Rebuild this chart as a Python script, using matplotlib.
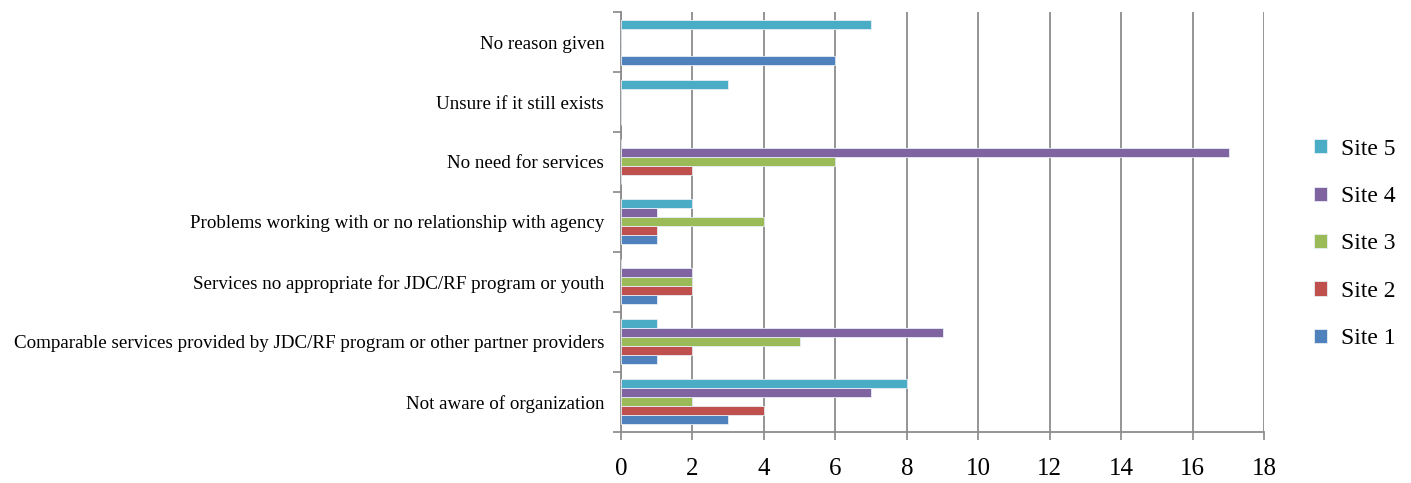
import numpy as np
import matplotlib
matplotlib.use("Agg")
import matplotlib.pyplot as plt

plt.rcParams["font.family"] = ["Liberation Serif", "DejaVu Serif"]

# categories, bottom to top
categories = [
    "Not aware of organization",
    "Comparable services provided by JDC/RF program or other partner providers",
    "Services no appropriate for JDC/RF program or youth",
    "Problems working with or no relationship with agency",
    "No need for services",
    "Unsure if it still exists",
    "No reason given",
]
site1 = [3, 1, 1, 1, 0, 0, 6]
site2 = [4, 2, 2, 1, 2, 0, 0]
site3 = [2, 5, 2, 4, 6, 0, 0]
site4 = [7, 9, 2, 1, 17, 0, 0]
site5 = [8, 1, 0, 2, 0, 3, 7]
series = [("Site 1", site1), ("Site 2", site2), ("Site 3", site3),
          ("Site 4", site4), ("Site 5", site5)]
colors = ["#4F81BD", "#C0504D", "#9BBB59", "#8064A2", "#4BACC6"]
x_ticks = list(range(0, 19, 2))

fig = plt.figure(figsize=(14.11, 4.83), dpi=100)
ax = fig.add_axes([0.440, 0.106, 0.456, 0.869])

y = np.arange(len(categories))
h = 0.15
handles = []
for i, ((name, vals), c) in enumerate(zip(series, colors)):
    off = (i - 2) * h
    b = ax.barh(y + off, vals, height=h, color=c, edgecolor="#e6eef5",
                linewidth=0.6, label=name, zorder=3)
    handles.append(b)

ax.set_xlim(0, 18)
ax.set_ylim(-0.5, len(categories) - 0.5)
ax.set_xticks(x_ticks)
ax.set_xticklabels([str(t) for t in x_ticks], fontsize=18)
ax.set_yticks(y)
ax.set_yticklabels(categories, fontsize=13.7)
ax.set_yticks(np.arange(-0.5, len(categories), 1.0), minor=True)
ax.tick_params(axis="y", which="major", length=0, pad=12)
ax.tick_params(axis="y", which="minor", length=6, color="#888888", width=1.2)
ax.tick_params(axis="x", length=6, color="#888888", width=1.2, pad=13)

ax.grid(axis="x", color="#8c8c8c", linewidth=1.3, zorder=0)
for s in ["top", "right"]:
    ax.spines[s].set_visible(False)
for s in ["left", "bottom"]:
    ax.spines[s].set_color("#8c8c8c")
    ax.spines[s].set_linewidth(1.3)

leg = fig.legend(handles[::-1], [n for n, _ in series][::-1],
                 loc="center left", bbox_to_anchor=(0.916, 0.495),
                 frameon=False, fontsize=17, handlelength=0.55,
                 handleheight=0.55, handletextpad=0.6, labelspacing=1.12)

fig.savefig("out.png", dpi=100)
